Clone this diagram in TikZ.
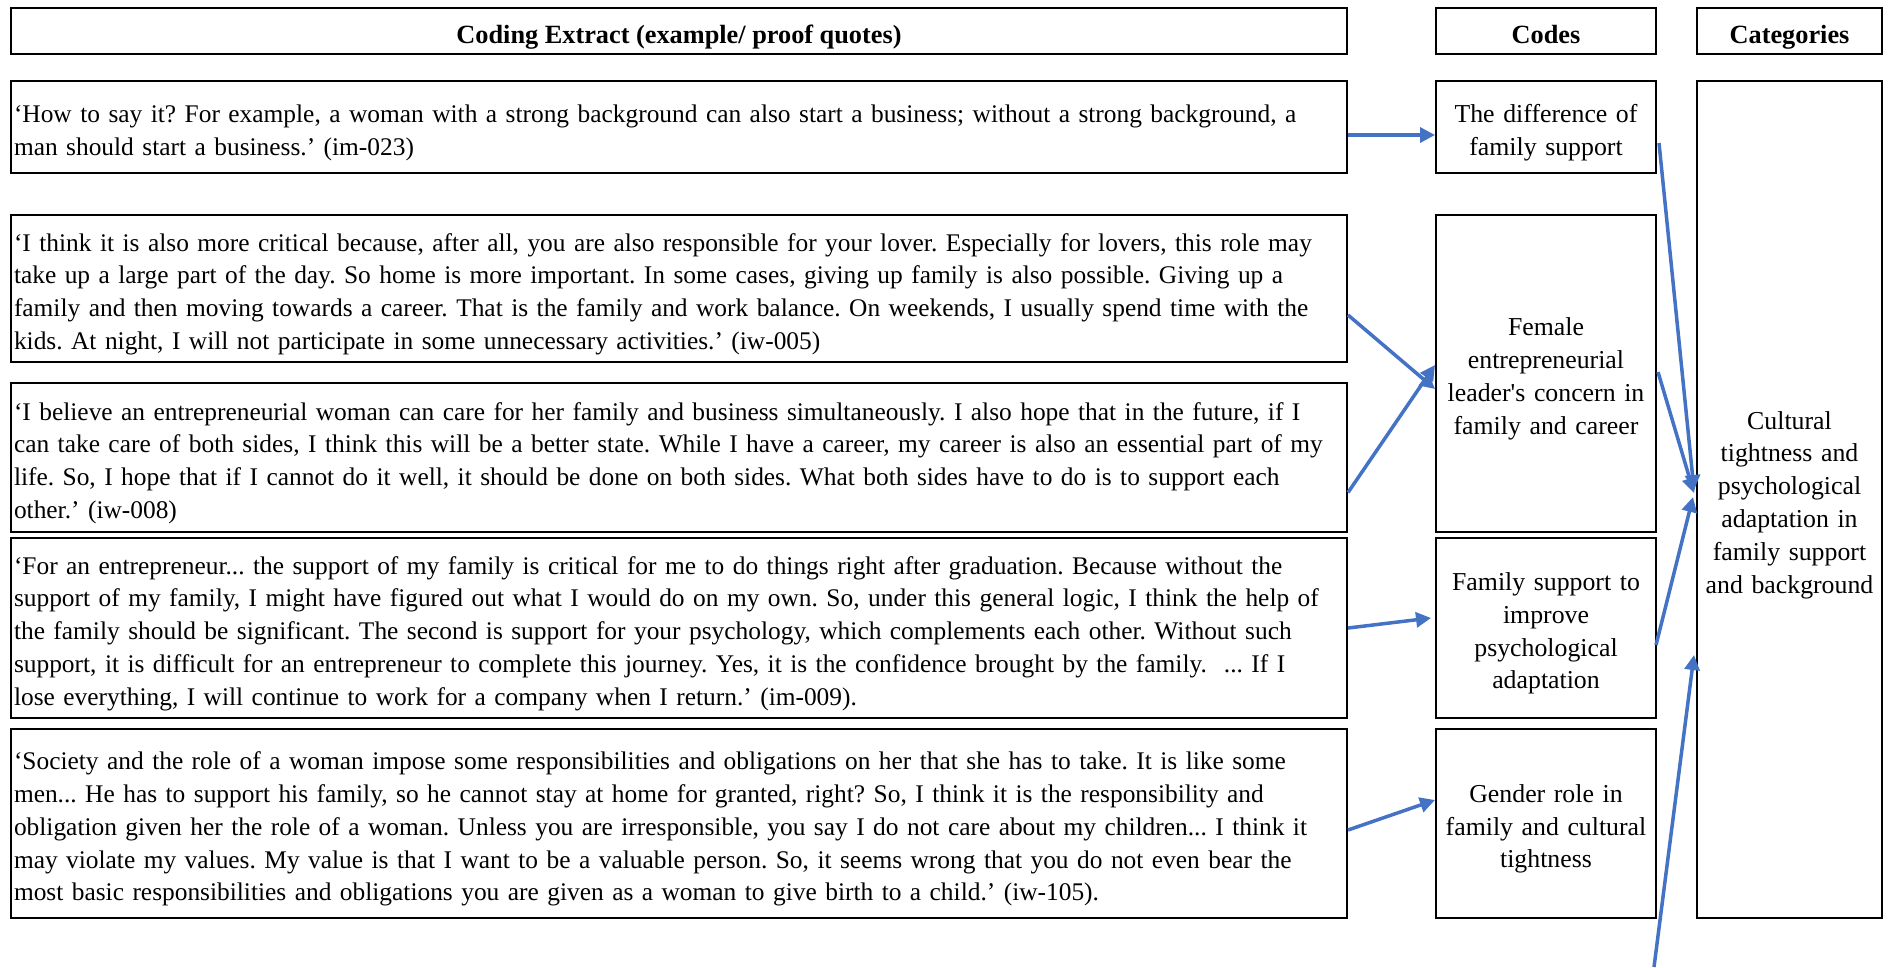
\documentclass[tikz,border=0pt]{standalone}
\usepackage{fontspec}
\setmainfont{Liberation Serif}
\usetikzlibrary{arrows.meta}
\definecolor{linkblue}{HTML}{4472C4}
\frenchspacing
\begin{document}
\begin{tikzpicture}[x=1pt,y=-1pt,
  frame/.style={draw, line width=2pt, inner sep=0pt},
  txt/.style={font=\fontsize{25.8}{32.8}\selectfont, inner sep=0pt, yshift=-5.5pt},
  headtxt/.style={inner sep=0pt, font=\fontsize{26.3}{32.8}\selectfont\bfseries, text height=17pt, text depth=5.5pt, yshift=-6.5pt},
  quotetxt/.style={txt, font=\fontsize{25.4}{32.8}\selectfont, align=left, text width=1330pt},
  codetxt/.style={txt, align=center, text width=214pt},
  cattxt/.style={txt, align=center, text width=181pt},
  link/.style={draw=linkblue, line width=3.5pt, -{Triangle[length=15pt,width=15pt]}}
]
\useasboundingbox (0,0) rectangle (1892,967);

% column headers
\node[frame, minimum width=1336pt, minimum height=46pt] (hE) at (679,31) {};
\node[frame, minimum width=220pt, minimum height=46pt] (hC) at (1546,31) {};
\node[frame, minimum width=185pt, minimum height=46pt] (hK) at (1789.5,31) {};
\node[headtxt] (hEt) at (hE.center) {Coding Extract (example/ proof quotes)};
\node[headtxt] (hCt) at (hC.center) {Codes};
\node[headtxt] (hKt) at (hK.center) {Categories};

% quote boxes
\node[frame, minimum width=1336pt, minimum height=92pt] (q1) at (679,127) {};
\node[frame, minimum width=1336pt, minimum height=147pt] (q2) at (679,288.5) {};
\node[frame, minimum width=1336pt, minimum height=149pt] (q3) at (679,457.5) {};
\node[frame, minimum width=1336pt, minimum height=180pt] (q4) at (679,628) {};
\node[frame, minimum width=1336pt, minimum height=189pt] (q5) at (679,823.5) {};

\node[quotetxt] (q1t) at (q1.center) {‘How to say it? For example, a woman with a strong background can also start a business; without a strong background, a\\man should start a business.’ (im-023)};
\node[quotetxt] (q2t) at (q2.center) {‘I think it is also more critical because, after all, you are also responsible for your lover. Especially for lovers, this role may\\take up a large part of the day. So home is more important. In some cases, giving up family is also possible. Giving up a\\family and then moving towards a career. That is the family and work balance. On weekends, I usually spend time with the\\kids. At night, I will not participate in some unnecessary activities.’ (iw-005)};
\node[quotetxt] (q3t) at (q3.center) {‘I believe an entrepreneurial woman can care for her family and business simultaneously. I also hope that in the future, if I\\can take care of both sides, I think this will be a better state. While I have a career, my career is also an essential part of my\\life. So, I hope that if I cannot do it well, it should be done on both sides. What both sides have to do is to support each\\other.’ (iw-008)};
\node[quotetxt] (q4t) at (q4.center) {‘For an entrepreneur... the support of my family is critical for me to do things right after graduation. Because without the\\support of my family, I might have figured out what I would do on my own. So, under this general logic, I think the help of\\the family should be significant. The second is support for your psychology, which complements each other. Without such\\support, it is difficult for an entrepreneur to complete this journey. Yes, it is the confidence brought by the family.\ \ ... If I\\lose everything, I will continue to work for a company when I return.’ (im-009).};
\node[quotetxt] (q5t) at (q5.center) {‘Society and the role of a woman impose some responsibilities and obligations on her that she has to take. It is like some\\men... He has to support his family, so he cannot stay at home for granted, right? So, I think it is the responsibility and\\obligation given her the role of a woman. Unless you are irresponsible, you say I do not care about my children... I think it\\may violate my values. My value is that I want to be a valuable person. So, it seems wrong that you do not even bear the\\most basic responsibilities and obligations you are given as a woman to give birth to a child.’ (iw-105).};

% code boxes
\node[frame, minimum width=220pt, minimum height=92pt] (c1) at (1546,127) {};
\node[frame, minimum width=220pt, minimum height=317pt] (c2) at (1546,373.5) {};
\node[frame, minimum width=220pt, minimum height=180pt] (c3) at (1546,628) {};
\node[frame, minimum width=220pt, minimum height=189pt] (c4) at (1546,823.5) {};

\node[codetxt] (c1t) at (c1.center) {The difference of\\family support};
\node[codetxt] (c2t) at (c2.center) {Female\\entrepreneurial\\leader\textquotesingle s concern in\\family and career};
\node[codetxt] (c3t) at (c3.center) {Family support to\\improve\\psychological\\adaptation};
\node[codetxt] (c4t) at (c4.center) {Gender role in\\family and cultural\\tightness};

% category box
\node[frame, minimum width=185pt, minimum height=837pt] (k) at (1789.5,499.5) {};
\node[cattxt] (kt) at (k.center) {Cultural\\tightness and\\psychological\\adaptation in\\family support\\and background};

% quotes to codes
\path[link] ([yshift=-8pt]q1.east) -- ([yshift=-8pt]c1.west);
\path[link] ([yshift=-26.5pt]q2.east) -- ([yshift=-15.5pt]c2.west);
\path[link] ([yshift=-35pt]q3.east) -- ([yshift=8.5pt]c2.west);
\path[link] (q4.east) -- ([xshift=-4pt,yshift=10pt]c3.west);
\path[link] ([yshift=-6.5pt]q5.east) -- ([yshift=23.5pt]c4.west);

% codes to category
\coordinate (src) at (1654,967);
\path[link] ([xshift=2pt,yshift=-16pt]c1.east) -- ([xshift=-2pt,yshift=9.5pt]k.west);
\path[link] ([xshift=1pt,yshift=1.5pt]c2.east) -- ([xshift=-2pt,yshift=6.5pt]k.west);
\path[link] ([xshift=-1pt,yshift=-17pt]c3.east) -- ([xshift=-3pt,yshift=2.5pt]k.west);
\path[link] (src) -- ([xshift=-2pt,yshift=-155.5pt]k.west);
\end{tikzpicture}
\end{document}
